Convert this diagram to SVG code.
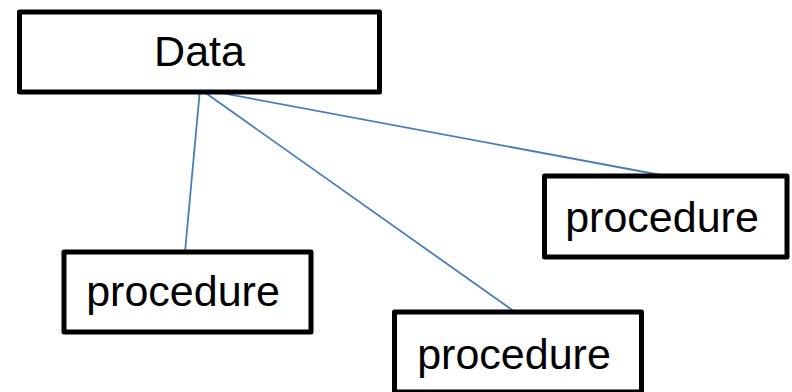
<svg xmlns="http://www.w3.org/2000/svg" width="792" height="392" viewBox="0 0 792 392">
  <style>
    .box { fill: #ffffff; stroke: #000000; stroke-width: 5; stroke-linejoin: round; }
    .label { font-family: "Liberation Sans", Arial, sans-serif; font-size: 43px; fill: #000000; text-anchor: middle; }
    .link { stroke: #4a7ebb; stroke-width: 1.8; fill: none; }
  </style>
  <rect width="792" height="392" fill="#ffffff"/>

  <!-- connectors from the Data box to each procedure -->
  <g id="connectors">
    <line class="link" x1="200" y1="89" x2="185" y2="252"/>
    <line class="link" x1="200" y1="89" x2="515" y2="312"/>
    <line class="link" x1="200" y1="89" x2="666" y2="176"/>
  </g>

  <g id="data">
    <rect class="box" x="19.5" y="12" width="360" height="80"/>
    <text class="label" x="199.5" y="66">Data</text>
  </g>

  <g id="procedure-left">
    <rect class="box" x="64" y="252" width="247" height="80"/>
    <text class="label" x="183" y="306">procedure</text>
  </g>

  <g id="procedure-bottom">
    <rect class="box" x="394.5" y="312" width="247" height="80"/>
    <text class="label" x="514" y="369">procedure</text>
  </g>

  <g id="procedure-right">
    <rect class="box" x="544.5" y="176" width="242.5" height="81"/>
    <text class="label" x="662" y="232">procedure</text>
  </g>
</svg>
